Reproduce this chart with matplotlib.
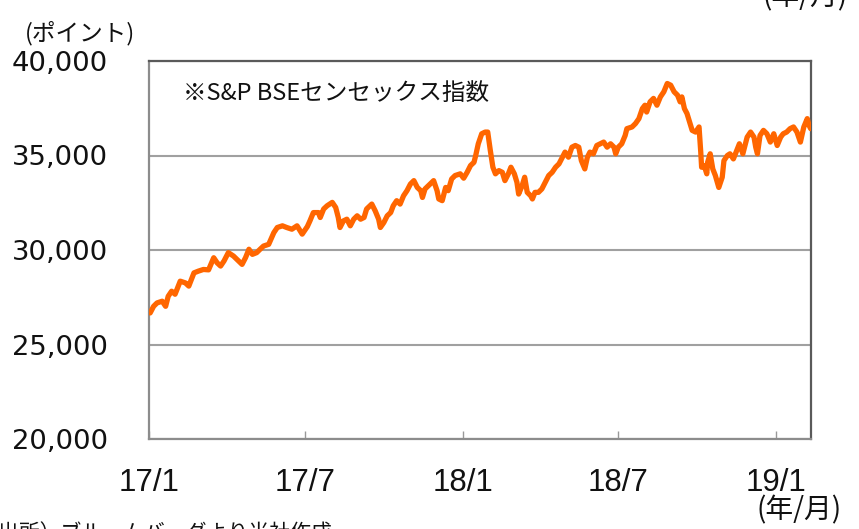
import numpy as np
import matplotlib
matplotlib.use("Agg")
import matplotlib.pyplot as plt

# ---- data ----
start_date = "2017-01-01"
day_offset = [1, 5, 9, 15, 19, 22, 26, 30, 36, 42, 46, 52, 57, 63, 69, 75, 79, 83, 87, 92,
              98, 104, 108, 112, 116, 120, 125, 129, 133, 139, 145, 149, 155, 160, 166, 172, 178, 184, 187, 191,
              193, 197, 199, 203, 207, 213, 217, 220, 222, 226, 230, 234, 238, 242, 246, 250, 253, 259, 263, 267,
              269, 273, 277, 281, 284, 288, 292, 296, 300, 304, 308, 312, 316, 318, 321, 327, 331, 335, 337, 341,
              345, 348, 352, 356, 362, 366, 370, 374, 378, 380, 383, 387, 391, 394, 397, 400, 403, 407, 411, 414,
              418, 421, 425, 428, 430, 434, 437, 440, 444, 446, 449, 453, 457, 461, 465, 469, 473, 477, 481, 484,
              488, 492, 496, 500, 503, 507, 510, 513, 517, 521, 525, 529, 533, 537, 541, 543, 546, 550, 554, 556,
              562, 566, 570, 574, 577, 579, 583, 587, 591, 595, 599, 603, 607, 611, 615, 618, 620, 623, 626, 629,
              632, 636, 640, 642, 643, 646, 649, 650, 653, 656, 659, 663, 667, 669, 673, 676, 680, 684, 687, 691,
              696, 700, 704, 706, 708, 711, 715, 719, 723, 727, 731, 735, 738, 742, 746, 750, 754, 758, 762, 766,
              768, 770]
sensex = [26670, 27020, 27200, 27290, 27020, 27550, 27820, 27660, 28350, 28260, 28090, 28790, 28880, 28970, 28950, 29590, 29320, 29150, 29420, 29860,
          29680, 29420, 29240, 29590, 30040, 29770, 29860, 30040, 30210, 30300, 30920, 31190, 31280, 31190, 31100, 31280, 30840, 31240, 31540, 31980,
          31980, 31980, 31720, 32170, 32340, 32520, 32250, 31720, 31190, 31540, 31630, 31280, 31630, 31810, 31630, 31720, 32170, 32430, 32070, 31630,
          31190, 31450, 31810, 31980, 32340, 32610, 32430, 32870, 33140, 33490, 33670, 33310, 33140, 32780, 33230, 33490, 33670, 33140, 32700, 32610,
          33310, 33140, 33760, 33940, 34030, 33800, 34110, 34470, 34640, 35000, 35620, 36150, 36240, 36240, 35270, 34380, 34030, 34200, 34110, 33670,
          34030, 34380, 34030, 33580, 32960, 33400, 33850, 33050, 32870, 32700, 33050, 33050, 33230, 33580, 33940, 34110, 34380, 34560, 34910, 35180,
          34910, 35440, 35530, 35440, 34730, 34290, 34910, 35180, 35090, 35530, 35620, 35710, 35440, 35620, 35440, 35090, 35440, 35620, 36060, 36420,
          36510, 36690, 36950, 37480, 37660, 37300, 37840, 38020, 37660, 38100, 38370, 38810, 38720, 38370, 38190, 37840, 38100, 37480, 37220, 36770,
          36330, 36240, 36510, 35180, 34380, 34470, 34030, 34640, 35090, 34290, 33940, 33310, 33850, 34730, 35000, 35090, 34820, 35270, 35620, 35090,
          35970, 36240, 35970, 35440, 35090, 36060, 36330, 36150, 35710, 36150, 35530, 35970, 36150, 36240, 36420, 36510, 36240, 35710, 36510, 36950,
          36600, 36420]
x_tick_dates = ["2017-01-01", "2017-07-01", "2018-01-01", "2018-07-01", "2019-01-01"]
x_tick_labels = ["17/1", "17/7", "18/1", "18/7", "19/1"]
y_ticks = [20000, 25000, 30000, 35000, 40000]
x_end_date = "2019-02-10"

JP = ["Noto Sans CJK JP", "DejaVu Sans"]

dates = np.datetime64(start_date) + np.array(day_offset).astype("timedelta64[D]")

fig = plt.figure(figsize=(8.59, 5.29), dpi=100)
ax = fig.add_axes([149.3 / 859, 1 - 439 / 529, (810.7 - 149.3) / 859, (439 - 61) / 529])

ax.plot(dates, sensex, color="#FF6600", lw=3.8, solid_joinstyle="round", solid_capstyle="round", zorder=3)

ax.set_xlim(np.datetime64(start_date), np.datetime64(x_end_date))
ax.set_ylim(y_ticks[0], y_ticks[-1])

ax.set_yticks(y_ticks)
ax.set_yticklabels([f"{v:,}" for v in y_ticks], fontsize=19.7, family="DejaVu Sans", color="#111111")
ax.set_xticks([np.datetime64(d) for d in x_tick_dates])
ax.set_xticklabels(x_tick_labels, fontsize=22.5, family="Liberation Sans", color="#111111")

ax.tick_params(axis="x", direction="in", length=6, width=1, color="#999999", pad=21)
ax.tick_params(axis="y", length=0, pad=29.5)

ax.yaxis.grid(True, color="#A0A0A0", lw=1.5, zorder=1)
ax.set_axisbelow(True)

for side in ["left", "bottom"]:
    ax.spines[side].set_color("#8C8C8C")
    ax.spines[side].set_linewidth(1.6)
for side in ["top", "right"]:
    ax.spines[side].set_color("#5A5A5A")
    ax.spines[side].set_linewidth(1.6)

# texts
fig.text(80 / 859, 1 - 33 / 529, "(ポイント)", fontsize=17, family=JP, ha="center", va="center", color="#111111")
fig.text(183 / 859, 1 - 93 / 529, "※S&P BSEセンセックス指数", fontsize=17, family=JP,
         ha="left", va="center", color="#111111")
fig.text(799 / 859, 1 - 510 / 529, "(年/月)", fontsize=20, family=JP, ha="center", va="center", color="#111111")
fig.text(805 / 859, 1 + 3 / 529, "(年/月)", fontsize=20, family=JP, ha="center", va="center", color="#111111")
fig.text(-22 / 859, 1 - 522 / 529, "（出所）ブルームバーグより当社作成", fontsize=15, family=JP,
         ha="left", va="top", color="#111111")

fig.savefig("out.png", dpi=100)
